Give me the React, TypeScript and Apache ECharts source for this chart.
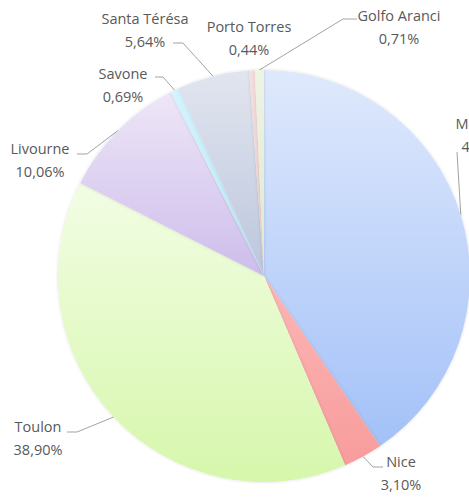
import React, { useEffect, useRef } from "react";
import * as echarts from "echarts";

const categories = ["Marseille", "Nice", "Toulon", "Livourne", "Savone", "Santa Térésa", "Porto Torres", "Golfo Aranci"];
const shares = [40.46, 3.1, 38.9, 10.06, 0.69, 5.64, 0.44, 0.71];
const topColors = ["#dfe9fc", "#fcb6b6", "#f2fde4", "#eee6f7", "#d4f3fc", "#e1e5ef", "#f3dede", "#eef4e4"];
const bottomColors = ["#a3c1f8", "#f89c9c", "#d6f7ab", "#cdbdeb", "#b9e9f8", "#bcc6dc", "#eecaca", "#dde9cc"];

// label block centres and where each leader line meets its label (layout only)
const labelCenters: [number, number][] = [
  [486, 135], [401, 473], [38, 438], [40, 160], [123, 85], [145, 30], [249, 38], [399, 27],
];
const leaderEnds: ([number, number] | null)[] = [
  [457, 152], [383, 467], [67, 432], [77, 154], [155, 77], [173, 43], null, [357, 19],
];
const elbowDx = [0, -10, 10, 10, 8, 10, 0, -14];

export default function App() {
  const ref = useRef<HTMLDivElement>(null);
  useEffect(() => {
    document.body.style.margin = "0";
    const chart = echarts.init(ref.current!, undefined, { renderer: "svg" });
    const data = categories.map((name, i) => ({
      name,
      value: shares[i],
      itemStyle: {
        color: new echarts.graphic.LinearGradient(0, 0, 0, 1, [
          { offset: 0, color: topColors[i] },
          { offset: 1, color: bottomColors[i] },
        ]),
      },
      labelLine: leaderEnds[i] ? undefined : { show: false },
    }));
    chart.setOption({
      animation: false,
      series: [
        {
          type: "pie",
          center: [264, 276],
          radius: 206,
          startAngle: 90,
          clockwise: true,
          data,
          itemStyle: {
            borderWidth: 0,
            shadowBlur: 3,
            shadowColor: "rgba(0,0,0,0.15)",
          },
          label: {
            show: true,
            position: "outside",
            overflow: "none",
            alignTo: "none",
            formatter: (p: any) => `${p.name}\n${p.value.toFixed(2).replace(".", ",")}%`,
            fontFamily: "Open Sans",
            fontSize: 14.5,
            lineHeight: 23,
            color: "#595959",
            align: "center",
          },
          labelLine: {
            show: true,
            lineStyle: { color: "#a3a3a3", width: 1 },
          },
          labelLayout: (params: any) => {
            const i = params.dataIndex;
            const c = labelCenters[i];
            const res: any = { x: c[0], y: c[1], align: "center", verticalAlign: "middle", width: 140 };
            const end = leaderEnds[i];
            const pts = params.labelLinePoints;
            if (end && pts && pts.length) {
              const edge = pts[0];
              if (elbowDx[i] === 0) {
                res.labelLinePoints = [edge, [end[0], end[1]], [end[0], end[1]]];
              } else {
                res.labelLinePoints = [edge, [end[0] + elbowDx[i], end[1]], [end[0], end[1]]];
              }
            }
            return res;
          },
        },
      ],
    });
    return () => chart.dispose();
  }, []);
  return <div ref={ref} style={{ width: 469, height: 497 }} />;
}
